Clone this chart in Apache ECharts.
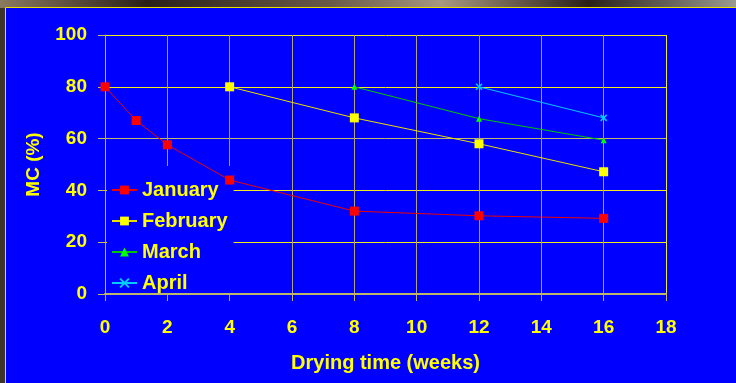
<!DOCTYPE html>
<html>
<head>
<meta charset="utf-8">
<script src="https://cdn.jsdelivr.net/npm/echarts@6/dist/echarts.min.js"></script>
<style>
  html, body { margin: 0; padding: 0; background: #3f3429; }
  #chart { width: 736px; height: 383px; }
</style>
</head>
<body>
<div id="chart"></div>
<script>
// Moisture content (%) against drying time (weeks), one series per harvest month
const seriesNames = ['January', 'February', 'March', 'April'];
const weeksJanuary = [0, 1, 2, 4, 8, 12, 16];
const mcJanuary = [80, 67, 57.6, 44, 32, 30.2, 29.2];
const weeksFebruary = [4, 8, 12, 16];
const mcFebruary = [80, 68, 58, 47.2];
const weeksMarch = [8, 12, 16];
const mcMarch = [80, 67.7, 59.4];
const weeksApril = [12, 16];
const mcApril = [80, 68];

const xTickLabels = [0, 2, 4, 6, 8, 10, 12, 14, 16, 18];
const yTickLabels = [0, 20, 40, 60, 80, 100];

const FONT = '"Liberation Sans", Arial, Helvetica, sans-serif';
const YELLOW = '#FFFF00';

function pairs(xs, ys) {
  return xs.map((x, i) => [x, ys[i]]);
}

const chart = echarts.init(document.getElementById('chart'), null, { renderer: 'canvas' });

chart.setOption({
  backgroundColor: '#3f3429',
  animation: false,
  textStyle: { fontFamily: FONT },
  graphic: [
    {
      type: 'rect',
      z: -10,
      shape: { x: 0, y: 0, width: 736, height: 8 },
      style: {
        fill: new echarts.graphic.LinearGradient(0, 0, 1, 0, [
          { offset: 0, color: '#8a7a60' },
          { offset: 0.2, color: '#2a2018' },
          { offset: 0.45, color: '#6a5a48' },
          { offset: 0.6, color: '#a89880' },
          { offset: 0.8, color: '#2a2018' },
          { offset: 1, color: '#9a9a90' }
        ])
      }
    },
    {
      type: 'rect',
      z: -9,
      shape: { x: 5.5, y: 7.5, width: 740, height: 380 },
      style: { fill: '#0000FF', stroke: '#E8E000', lineWidth: 1 }
    }
  ],
  grid: { left: 105, right: 70, top: 35, bottom: 89, containLabel: false },
  legend: {
    orient: 'vertical',
    left: 107,
    top: 166,
    padding: [14, 6, 0, 4],
    itemGap: 11,
    itemWidth: 25,
    itemHeight: 11,
    backgroundColor: '#0000FF',
    data: seriesNames,
    textStyle: {
      color: YELLOW,
      fontFamily: FONT,
      fontWeight: 'bold',
      fontSize: 20,
      lineHeight: 20
    }
  },
  xAxis: {
    type: 'value',
    min: 0,
    max: xTickLabels[xTickLabels.length - 1],
    interval: xTickLabels[1] - xTickLabels[0],
    name: 'Drying time (weeks)',
    nameLocation: 'middle',
    nameGap: 59,
    nameTextStyle: { color: YELLOW, fontWeight: 'bold', fontSize: 20, fontFamily: FONT },
    axisLine: { show: true, lineStyle: { color: '#BEB66A', width: 2 } },
    axisTick: { show: true, length: 7, lineStyle: { color: '#BEB66A' } },
    axisLabel: { color: YELLOW, fontWeight: 'bold', fontSize: 19, margin: 24, fontFamily: FONT },
    splitLine: {
      show: true,
      lineStyle: {
        color: ['#ADA578', '#ADA578', '#ADA578', '#ADA578', '#ADA578',
                '#ADA578', '#ADA578', '#ADA578', '#ADA578', '#F0EC20'],
        width: 1
      }
    }
  },
  yAxis: {
    type: 'value',
    min: 0,
    max: yTickLabels[yTickLabels.length - 1],
    interval: yTickLabels[1] - yTickLabels[0],
    name: 'MC (%)',
    nameLocation: 'middle',
    nameGap: 62,
    nameTextStyle: { color: YELLOW, fontWeight: 'bold', fontSize: 19, fontFamily: FONT },
    axisLine: { show: true, lineStyle: { color: '#C4BC60', width: 1 } },
    axisTick: { show: true, length: 7, lineStyle: { color: '#C4BC60' } },
    axisLabel: { color: YELLOW, fontWeight: 'bold', fontSize: 19, margin: 18, fontFamily: FONT },
    splitLine: {
      show: true,
      lineStyle: {
        color: ['#E8E240', '#F0EC20', '#F0EC20', '#BDB674', '#F0EC20', '#F0EC20'],
        width: 1
      }
    }
  },
  series: [
    {
      name: seriesNames[0],
      type: 'line',
      data: pairs(weeksJanuary, mcJanuary),
      symbol: 'rect',
      symbolSize: 9,
      lineStyle: { color: '#F00000', width: 1 },
      itemStyle: { color: '#FF0000' },
      z: 5
    },
    {
      name: seriesNames[1],
      type: 'line',
      data: pairs(weeksFebruary, mcFebruary),
      symbol: 'rect',
      symbolSize: 9,
      lineStyle: { color: '#E8E000', width: 1 },
      itemStyle: { color: '#FFFF00' },
      z: 4
    },
    {
      name: seriesNames[2],
      type: 'line',
      data: pairs(weeksMarch, mcMarch),
      symbol: 'triangle',
      symbolSize: 6,
      lineStyle: { color: '#00C800', width: 1 },
      itemStyle: { color: '#00FF00' },
      z: 3
    },
    {
      name: seriesNames[3],
      type: 'line',
      data: pairs(weeksApril, mcApril),
      symbol: 'path://M0,0L10,10M10,0L0,10',
      symbolSize: 6,
      lineStyle: { color: '#00CCFF', width: 1 },
      itemStyle: { color: '#00CCFF', borderColor: '#00CCFF', borderWidth: 1.5 },
      z: 2
    }
  ]
});
</script>
</body>
</html>
